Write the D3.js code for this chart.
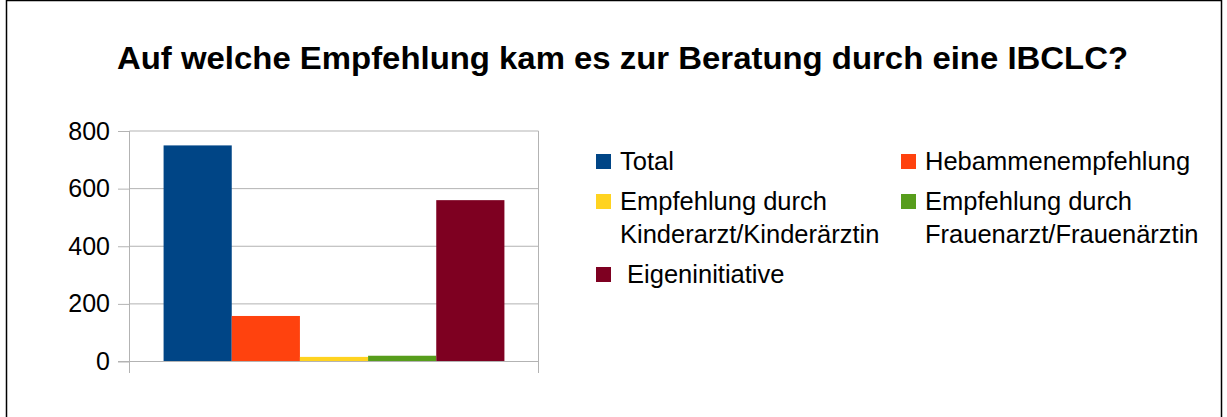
<!DOCTYPE html>
<html><head><meta charset="utf-8">
<script src="https://cdn.jsdelivr.net/npm/d3@7"></script>
<style>body{margin:0;background:#fff}svg{display:block}text{font-family:"Liberation Sans",Arial,sans-serif}</style>
</head><body><svg id="c" width="1227" height="417"></svg>
<script>
const title = "Auf welche Empfehlung kam es zur Beratung durch eine IBCLC?";
const series = ["Total","Hebammenempfehlung","Empfehlung durch Kinderarzt/Kinderärztin","Empfehlung durch Frauenarzt/Frauenärztin","Eigeninitiative"];
const legendLines = [["Total"],["Hebammenempfehlung"],["Empfehlung durch","Kinderarzt/Kinderärztin"],["Empfehlung durch","Frauenarzt/Frauenärztin"],[" Eigeninitiative"]];
const values = [750, 158, 16, 20, 560];
const colors = ["#004586","#ff420e","#ffd320","#579d1c","#7e0021"];
const yTicks = [0,200,400,600,800];

const svg = d3.select("#c");
svg.append("rect").attr("x",6.5).attr("y",0.5).attr("width",1215).attr("height",430)
  .attr("fill","none").attr("stroke","#000").attr("stroke-width",1.5);

svg.append("text").attr("x",622.5).attr("y",69).attr("text-anchor","middle")
  .attr("font-size",32).attr("font-weight","bold").attr("fill","#000")
  .attr("textLength",1011).attr("lengthAdjust","spacingAndGlyphs").text(title);

const x0 = 129.5, x1 = 538.5;
const y = d3.scaleLinear().domain([0,800]).range([361.5,131]);
const xb = d3.scaleBand().domain(series).range([x0,x1]).paddingInner(0).paddingOuter(0.5);

const g = svg.append("g");
const ax = g.append("g").attr("transform",`translate(${x0},0)`)
  .call(d3.axisLeft(y).tickValues(yTicks).tickSize(11.5).tickPadding(8).tickSizeOuter(0));
ax.select(".domain").remove();
ax.selectAll(".tick line").attr("stroke","#b3b3b3");
ax.selectAll(".tick text").attr("font-size",25).attr("fill","#000").attr("font-family","Liberation Sans, Arial, sans-serif");
g.selectAll("line.grid").data(yTicks).join("line").attr("class","grid")
  .attr("x1",x0).attr("x2",x1).attr("y1",d=>y(d)).attr("y2",d=>y(d))
  .attr("stroke","#b3b3b3").attr("stroke-width",1);
[x0,x1].forEach(xx=>{
  g.append("line").attr("x1",xx).attr("x2",xx).attr("y1",y(800)).attr("y2",373)
   .attr("stroke","#b3b3b3").attr("stroke-width",1);
});
g.selectAll("rect.bar").data(values).join("rect").attr("class","bar")
  .attr("x",(d,i)=>xb(series[i])).attr("width",xb.bandwidth())
  .attr("y",d=>y(d)).attr("height",d=>y(0)-y(d)).attr("fill",(d,i)=>colors[i]);
g.append("line").attr("x1",118).attr("x2",x1).attr("y1",y(0)).attr("y2",y(0)).attr("stroke","#b3b3b3");

const colX = [596, 901];
const rowY = [170, 210, 283];
const lg = svg.append("g");
legendLines.forEach((lines,i)=>{
  const cx = colX[i%2], ry = rowY[Math.floor(i/2)];
  lg.append("rect").attr("x",cx).attr("y",ry-16).attr("width",15).attr("height",15).attr("fill",colors[i]);
  const t = lg.append("text").attr("x",cx+24).attr("y",ry).attr("font-size",25.5).attr("fill","#000").attr("xml:space","preserve");
  lines.forEach((l,j)=>{
    t.append("tspan").attr("x",cx+24).attr("y",ry+j*33).text(l);
  });
});
</script></body></html>
